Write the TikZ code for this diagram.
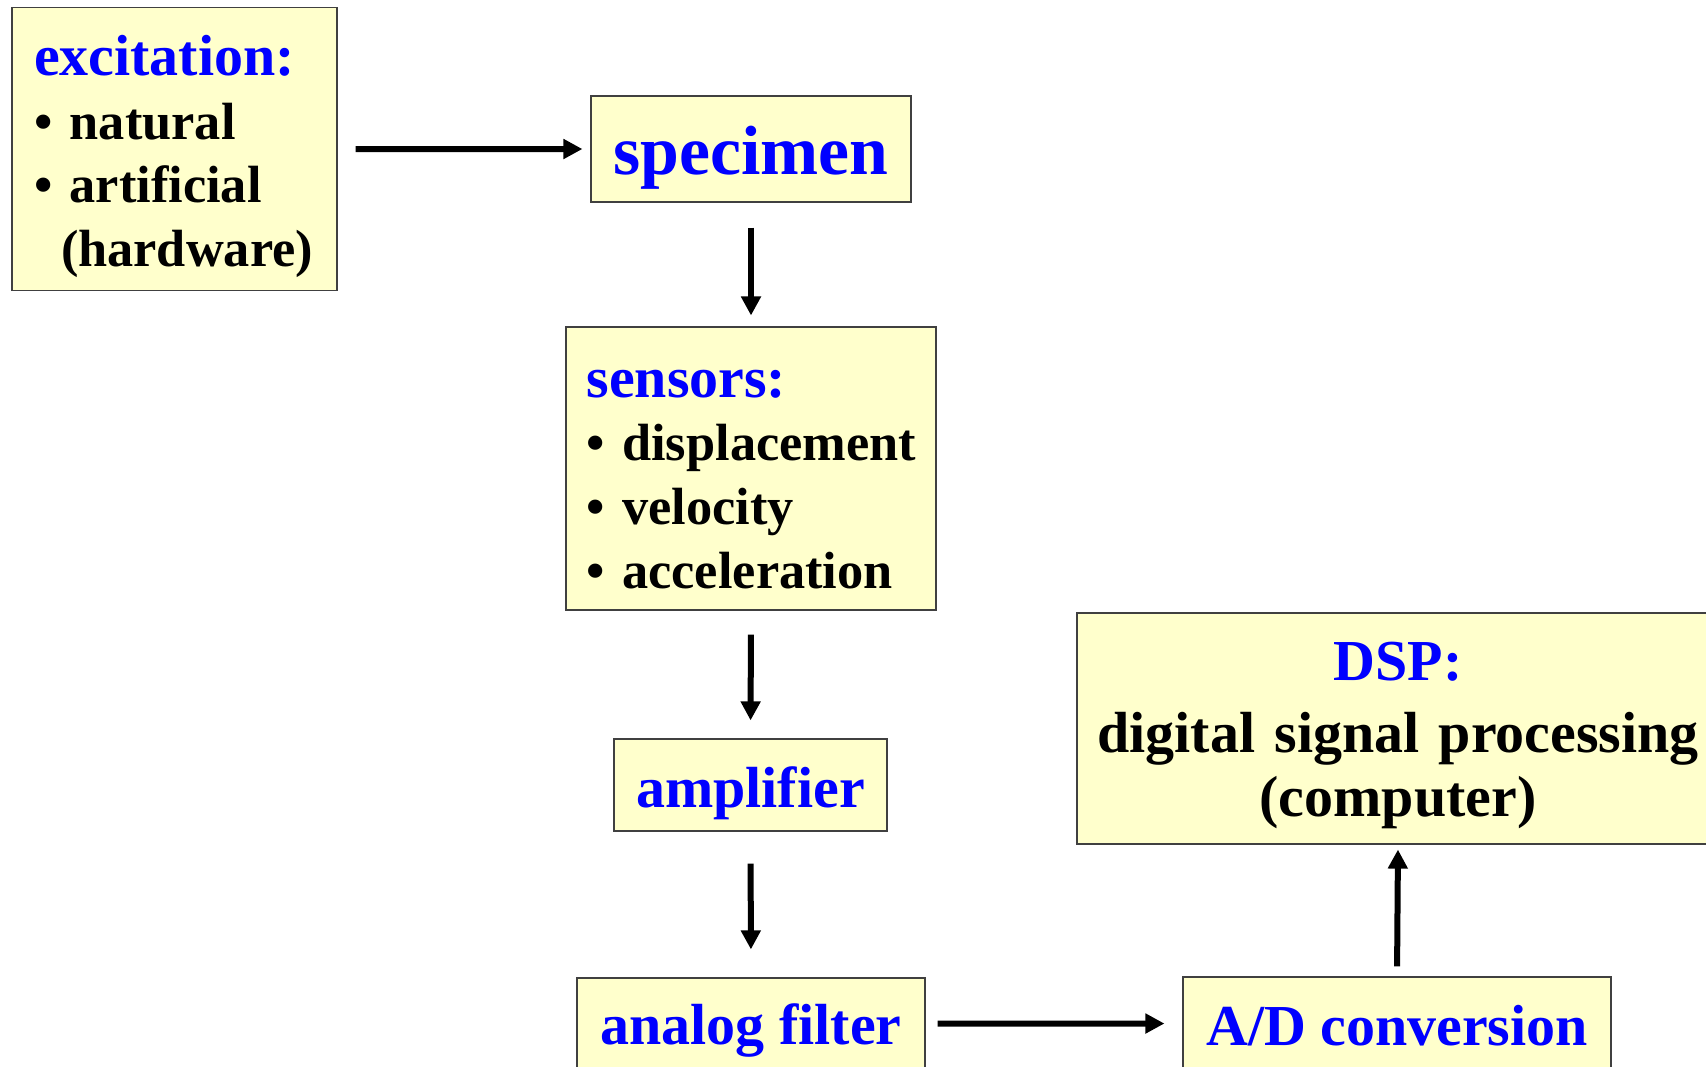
\documentclass[tikz,border=0pt]{standalone}
\usepackage{fontspec}
\setmainfont{Liberation Serif}
\usepackage{xcolor}
\usepackage{tikz}
\usetikzlibrary{arrows.meta}
\usetikzlibrary{positioning}
\definecolor{boxfill}{HTML}{FFFFCC}
\definecolor{headblue}{HTML}{0000FF}
\newcommand{\headtxt}[1]{{\fontsize{33pt}{36.3pt}\selectfont\color{headblue}#1}}

\begin{document}
\begin{tikzpicture}[x=0.02cm, y=-0.02cm,
	block/.style={draw=black!75, line width=0.7pt, fill=boxfill, inner sep=0pt, font={\fontsize{33pt}{36.3pt}\selectfont\bfseries}, text=headblue},
	listblock/.style={block, align=left, text=black, font={\fontsize{29.8pt}{36.3pt}\selectfont\bfseries\hyphenpenalty=10000\hbadness=10000\hfuzz=20pt}},
	arrow/.style={line width=0.12cm, -{Triangle[length=0.38cm,width=0.38cm]}}]
	\clip (0,0) rectangle (1706,1066);

	\node[listblock, text width=5.62cm, inner xsep=0.44cm, inner ysep=0.26cm] (excitation) at (174.5,149)
		{\rule{0pt}{1.1cm}\headtxt{excitation:}\\ \textbullet~natural\\ \textbullet~artificial\\ \hspace*{0.54cm}(hardware)\rule[-0.2cm]{0pt}{0.2cm}};

	\node[block, anchor=base, minimum width=6.4cm, text height=1.56cm, text depth=0.56cm, font={\fontsize{39.7pt}{44pt}\selectfont\bfseries}] (specimen) at (751,174) {specimen};

	\node[listblock, text width=6.58cm, inner xsep=0.41cm, inner ysep=0.42cm] (sensors) at (751,468.5)
		{\rule{0pt}{0.98cm}\headtxt{sensors:}\\ \textbullet~displacement\\ \textbullet~velocity\\ \textbullet~acceleration};

	\node[block, anchor=base, minimum width=5.46cm, text height=1.36cm, text depth=0.48cm] (amplifier) at (750.5,807) {amplifier};

	\node[block, anchor=base, minimum width=6.96cm, text height=1.32cm, text depth=0.5cm] (filter) at (751,1044) {analog filter};

	\node[block, anchor=base, minimum width=8.56cm, text height=1.36cm, text depth=0.5cm] (adc) at (1397,1045) {A/D conversion};

	\node[block, text=black, align=center, text width=12.84cm, inner ysep=0.3cm] (dsp) at (1398,728.5)
		{\rule{0pt}{1.04cm}\headtxt{DSP:}\\[0.18cm] digital signal processing\\ (computer)\rule[-0.2cm]{0pt}{0.2cm}};

	\draw[arrow, shorten <=0.36cm, shorten >=0.16cm] (excitation.east) -- (specimen.west);
	\draw[arrow, shorten <=0.5cm, shorten >=0.22cm] (specimen.south) -- (sensors.north);
	\draw[arrow, shorten <=0.48cm, shorten >=0.36cm] (sensors.south) -- (amplifier.north);
	\draw[arrow, shorten <=0.64cm, shorten >=0.56cm] (amplifier.south) -- (filter.north);
	\draw[arrow, shorten <=0.24cm, shorten >=0.36cm] (filter.east) -- (adc.west);
	\draw[arrow, shorten <=0.2cm, shorten >=0.1cm] (adc.north) -- (dsp.south);
\end{tikzpicture}
\end{document}
